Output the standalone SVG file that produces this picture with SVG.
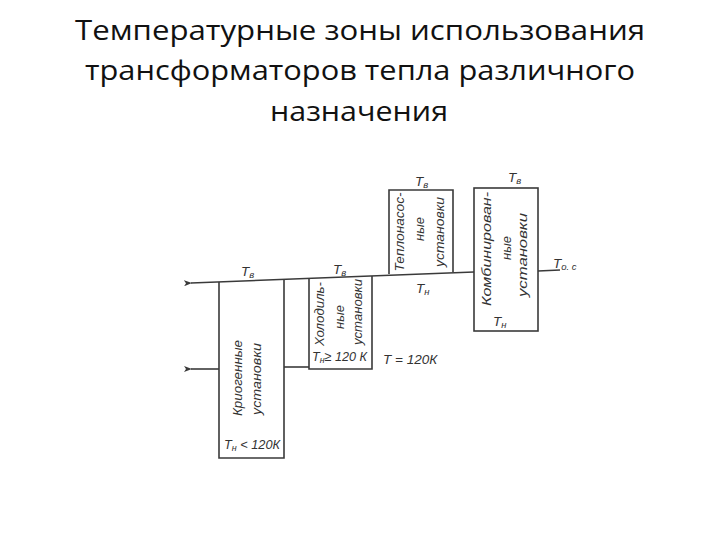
<svg xmlns="http://www.w3.org/2000/svg" width="720" height="540" viewBox="0 0 720 540">
<style>
.title{font-family:"Open Sans","Noto Sans","Liberation Sans",sans-serif;font-size:28px;fill:#111;text-anchor:middle}
.ln{fill:none;stroke:#3a3a3a;stroke-width:1.6}
.lb{font-family:"Liberation Sans",Arial,sans-serif;font-style:italic;font-size:13.5px;fill:#333}
.rt{font-family:"Liberation Sans",Arial,sans-serif;font-style:italic;font-size:13px;fill:#333;text-anchor:middle}
.sub{font-size:9.5px}
</style>
<defs>
<marker id="arr" markerWidth="8" markerHeight="6" refX="1" refY="3" orient="auto-start-reverse" markerUnits="userSpaceOnUse">
<path d="M0,3 L8,0 L6,3 L8,6 Z" fill="#3a3a3a"/>
</marker>
</defs>
<rect width="720" height="540" fill="#fff"/>
<g id="title">
<text class="title" x="360" y="40" textLength="570" lengthAdjust="spacingAndGlyphs">Температурные зоны использования</text>
<text class="title" x="360" y="80" textLength="550" lengthAdjust="spacingAndGlyphs">трансформаторов тепла различного</text>
<text class="title" x="359" y="121" textLength="178" lengthAdjust="spacingAndGlyphs">назначения</text>
</g>
<g id="connectors">
<path class="ln" d="M191,283 L474,272" marker-start="url(#arr)"/>
<path class="ln" d="M538,271 L560,270"/>
<path class="ln" d="M191,369 L219,369" marker-start="url(#arr)"/>
<path class="ln" d="M284,367 L309,367"/>
</g>
<g id="cryogenic">
<path class="ln" d="M219,282 V458 H284 V280"/>
<text class="lb" x="241" y="276">T<tspan class="sub" dy="2">в</tspan></text>
<text class="rt" transform="translate(242,378) rotate(-90)" textLength="76" lengthAdjust="spacingAndGlyphs">Криогенные</text>
<text class="rt" transform="translate(261,379) rotate(-90)" textLength="72" lengthAdjust="spacingAndGlyphs">установки</text>
<text class="lb" x="224" y="449" textLength="56" lengthAdjust="spacingAndGlyphs">T<tspan class="sub" dy="2">н</tspan><tspan dy="-2"> &lt; 120К</tspan></text>
</g>
<g id="refrigeration">
<path class="ln" d="M309,278 V369 H372 V276"/>
<text class="lb" x="333" y="274">T<tspan class="sub" dy="2">в</tspan></text>
<text class="rt" transform="translate(324,314) rotate(-90)" textLength="64" lengthAdjust="spacingAndGlyphs">Холодиль-</text>
<text class="rt" transform="translate(344,317) rotate(-90)">ные</text>
<text class="rt" transform="translate(362,312) rotate(-90)" textLength="66" lengthAdjust="spacingAndGlyphs">установки</text>
<text class="lb" x="312" y="361" textLength="55" lengthAdjust="spacingAndGlyphs">T<tspan class="sub" dy="2">н</tspan><tspan dy="-2">≥ 120 К</tspan></text>
</g>
<text class="lb" x="383" y="364">T = 120К</text>
<g id="heatpump">
<path class="ln" d="M389,274 V190 H453 V272"/>
<text class="lb" x="415" y="186">T<tspan class="sub" dy="2">в</tspan></text>
<text class="rt" transform="translate(404,232) rotate(-90)" textLength="79" lengthAdjust="spacingAndGlyphs">Теплонасос-</text>
<text class="rt" transform="translate(424,229) rotate(-90)">ные</text>
<text class="rt" transform="translate(444,232) rotate(-90)" textLength="70" lengthAdjust="spacingAndGlyphs">установки</text>
<text class="lb" x="416" y="293">T<tspan class="sub" dy="2">н</tspan></text>
</g>
<g id="combined">
<rect class="ln" x="474" y="188" width="64" height="143"/>
<text class="lb" x="508" y="182">T<tspan class="sub" dy="2">в</tspan></text>
<text class="rt" transform="translate(491,249) rotate(-90)" textLength="114" lengthAdjust="spacingAndGlyphs">Комбинирован-</text>
<text class="rt" transform="translate(511,248) rotate(-90)">ные</text>
<text class="rt" transform="translate(527,255) rotate(-90)" textLength="84" lengthAdjust="spacingAndGlyphs">установки</text>
<text class="lb" x="493" y="326">T<tspan class="sub" dy="2">н</tspan></text>
</g>
<text class="lb" x="553" y="268">T<tspan class="sub" dy="2">о. с</tspan></text>
</svg>
